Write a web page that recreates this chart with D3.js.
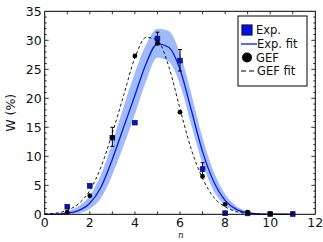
<!DOCTYPE html>
<html>
<head>
<meta charset="utf-8">
<script src="https://cdn.jsdelivr.net/npm/d3@7"></script>
<style>
  body { margin: 0; background: #fff; }
  svg { display: block; font-family: "DejaVu Sans", sans-serif; }
</style>
</head>
<body>
<div id="chart"></div>
<script>
// measured points
const nExp = [1, 2, 3, 4, 5, 6, 7, 8, 9, 10, 11];
const wExp = [1.3, 4.9, 13.2, 15.8, 30.3, 26.5, 7.8, 0.2, 0.15, 0.05, 0.05];
const errLo = [0, 0, 11.7, 15.8, 29.2, 24.7, 6.8, 0.2, 0.15, 0.05, 0.05];
const errHi = [0, 0, 15.0, 15.8, 31.4, 28.4, 8.9, 0.2, 0.15, 0.05, 0.05];

const nGef = [1, 2, 3, 4, 5, 6, 7, 8, 9, 10];
const wGef = [0.35, 3.2, 13.3, 27.3, 29.5, 17.6, 6.5, 1.7, 0.35, 0.1];

// fit curves, every 0.5
const nFit = [0, 0.5, 1, 1.5, 2, 2.5, 3, 3.5, 4, 4.5, 5, 5.5, 6, 6.5, 7, 7.5, 8, 8.5, 9, 9.5, 10, 11];
const expFit = [0, 0.03, 0.2, 0.65, 1.9, 4.7, 9.5, 15, 20.5, 26, 29.4, 28.8, 25, 18, 10.8, 5.6, 2.4, 0.85, 0.25, 0.07, 0.02, 0];
const expHi = [0, 0.08, 0.5, 1.4, 3.2, 6.9, 12.4, 18.6, 24.4, 29.3, 32, 31.6, 27.8, 20.8, 13.2, 7.3, 3.5, 1.4, 0.5, 0.15, 0.05, 0];
const expLo = [0, 0, 0.05, 0.2, 0.9, 2.8, 6.8, 11.8, 17.2, 23, 27, 26.3, 22.4, 15.4, 8.7, 4.0, 1.5, 0.45, 0.1, 0.02, 0, 0];
const gefFit = [0.07, 0.2, 0.7, 1.8, 4.1, 8.2, 14, 20.5, 27, 30.5, 30, 25.5, 18.2, 11.2, 6.2, 2.9, 1.3, 0.45, 0.15, 0.04, 0.01, 0];

const xTicks = [0, 2, 4, 6, 8, 10, 12];
const yTicks = [0, 5, 10, 15, 20, 25, 30, 35];

const W = 323, H = 242;
const margin = {top: 11.3, right: 7.7, bottom: 27.7, left: 44.7},
    width = W - margin.left - margin.right,
    height = H - margin.top - margin.bottom;

const svg = d3.select("#chart").append("svg")
    .attr("width", W)
    .attr("height", H);

const g = svg.append("g")
    .attr("transform", "translate(" + margin.left + "," + margin.top + ")");

const x = d3.scaleLinear().domain([0, 12]).range([0, width]);
const y = d3.scaleLinear().domain([0, 35]).range([height, 0]);

const fitRows = nFit.map((n, i) => ({n, fit: expFit[i], hi: expHi[i], lo: expLo[i], gef: gefFit[i]}));

// uncertainty band
g.append("path")
    .datum(fitRows)
    .attr("fill", "#a0bbfc")
    .attr("d", d3.area()
        .x(d => x(d.n))
        .y0(d => y(d.lo))
        .y1(d => y(d.hi))
        .curve(d3.curveMonotoneX));

g.append("path")
    .datum(fitRows)
    .attr("fill", "none")
    .attr("stroke", "#0a14f0")
    .attr("stroke-width", 1.3)
    .attr("d", d3.line().x(d => x(d.n)).y(d => y(d.fit)).curve(d3.curveMonotoneX));

g.append("path")
    .datum(fitRows)
    .attr("fill", "none")
    .attr("stroke", "#000")
    .attr("stroke-width", 0.9)
    .attr("stroke-dasharray", "3,2.5")
    .attr("d", d3.line().x(d => x(d.n)).y(d => y(d.gef)).curve(d3.curveMonotoneX));

// error bars
const expRows = nExp.map((n, i) => ({n, w: wExp[i], lo: errLo[i], hi: errHi[i]}));
const eb = g.selectAll(".err")
    .data(expRows.filter(d => d.hi - d.lo > 0.5))
    .enter().append("g")
    .attr("class", "err")
    .attr("stroke", "#000")
    .attr("stroke-width", 1);
eb.append("line")
    .attr("x1", d => x(d.n)).attr("x2", d => x(d.n))
    .attr("y1", d => y(d.lo)).attr("y2", d => y(d.hi));
eb.append("line")
    .attr("x1", d => x(d.n) - 2).attr("x2", d => x(d.n) + 2)
    .attr("y1", d => y(d.lo)).attr("y2", d => y(d.lo));
eb.append("line")
    .attr("x1", d => x(d.n) - 2).attr("x2", d => x(d.n) + 2)
    .attr("y1", d => y(d.hi)).attr("y2", d => y(d.hi));

g.selectAll(".sq")
    .data(expRows)
    .enter().append("rect")
    .attr("class", "sq")
    .attr("x", d => x(d.n) - 2.3)
    .attr("y", d => y(d.w) - 2.3)
    .attr("width", 4.6)
    .attr("height", 4.6)
    .attr("fill", "#0010e8")
    .attr("stroke", "#101040")
    .attr("stroke-width", 0.8);

g.selectAll(".dot")
    .data(nGef.map((n, i) => ({n, w: wGef[i]})))
    .enter().append("circle")
    .attr("class", "dot")
    .attr("cx", d => x(d.n))
    .attr("cy", d => y(d.w))
    .attr("r", 2.4)
    .attr("fill", "#000");

// frame and inward ticks
g.append("rect")
    .attr("width", width)
    .attr("height", height)
    .attr("fill", "none")
    .attr("stroke", "#000")
    .attr("stroke-width", 1);

const ticks = g.append("g").attr("stroke", "#000").attr("stroke-width", 0.8);
d3.range(1, 12).forEach(v => {
    ticks.append("line").attr("x1", x(v)).attr("x2", x(v)).attr("y1", height).attr("y2", height - 3);
    ticks.append("line").attr("x1", x(v)).attr("x2", x(v)).attr("y1", 0).attr("y2", 3);
});
d3.range(1, 35).forEach(v => {
    const len = v % 5 === 0 ? 4 : 2;
    ticks.append("line").attr("x1", 0).attr("x2", len).attr("y1", y(v)).attr("y2", y(v));
    ticks.append("line").attr("x1", width).attr("x2", width - len).attr("y1", y(v)).attr("y2", y(v));
});

g.selectAll(".xt")
    .data(xTicks)
    .enter().append("text")
    .attr("class", "xt")
    .attr("x", d => x(d))
    .attr("y", height + 13)
    .attr("text-anchor", "middle")
    .attr("font-size", 12.5)
    .attr("fill", "#111")
    .text(d => d);

g.selectAll(".yt")
    .data(yTicks)
    .enter().append("text")
    .attr("class", "yt")
    .attr("x", -3)
    .attr("y", d => y(d))
    .attr("dy", "0.36em")
    .attr("text-anchor", "end")
    .attr("font-size", 12.5)
    .attr("fill", "#111")
    .text(d => d);

svg.append("text")
    .attr("transform", "translate(15," + (margin.top + height / 2) + ") rotate(-90)")
    .attr("text-anchor", "middle")
    .attr("font-size", 12.5)
    .attr("fill", "#111")
    .text("W (%)");

svg.append("text")
    .attr("x", margin.left + width / 2 + 1)
    .attr("y", 238)
    .attr("text-anchor", "middle")
    .attr("font-family", "'DejaVu Serif', serif")
    .attr("font-style", "italic")
    .attr("font-size", 9)
    .attr("fill", "#333")
    .text("n");

// legend
const leg = svg.append("g").attr("transform", "translate(238,16)");
leg.append("rect")
    .attr("width", 69).attr("height", 70)
    .attr("fill", "#fff").attr("stroke", "#000").attr("stroke-width", 1);
const rowY = [14, 28, 41.5, 55];
leg.append("rect").attr("x", 4).attr("y", rowY[0] - 5).attr("width", 10).attr("height", 10)
    .attr("fill", "#0010e8").attr("stroke", "#101040").attr("stroke-width", 1.2);
leg.append("line").attr("x1", 3).attr("x2", 19).attr("y1", rowY[1]).attr("y2", rowY[1])
    .attr("stroke", "#0a14f0").attr("stroke-width", 1.3);
leg.append("circle").attr("cx", 9).attr("cy", rowY[2]).attr("r", 5).attr("fill", "#000");
leg.append("line").attr("x1", 3).attr("x2", 19).attr("y1", rowY[3]).attr("y2", rowY[3])
    .attr("stroke", "#000").attr("stroke-width", 1).attr("stroke-dasharray", "5,3");
["Exp.", "Exp. fit", "GEF", "GEF fit"].forEach((t, i) => {
    leg.append("text")
        .attr("x", i === 0 || i === 2 ? 18 : 19)
        .attr("y", rowY[i])
        .attr("dy", "0.36em")
        .attr("font-size", 11.5)
        .attr("fill", "#111")
        .text(t);
});
</script>
</body>
</html>
